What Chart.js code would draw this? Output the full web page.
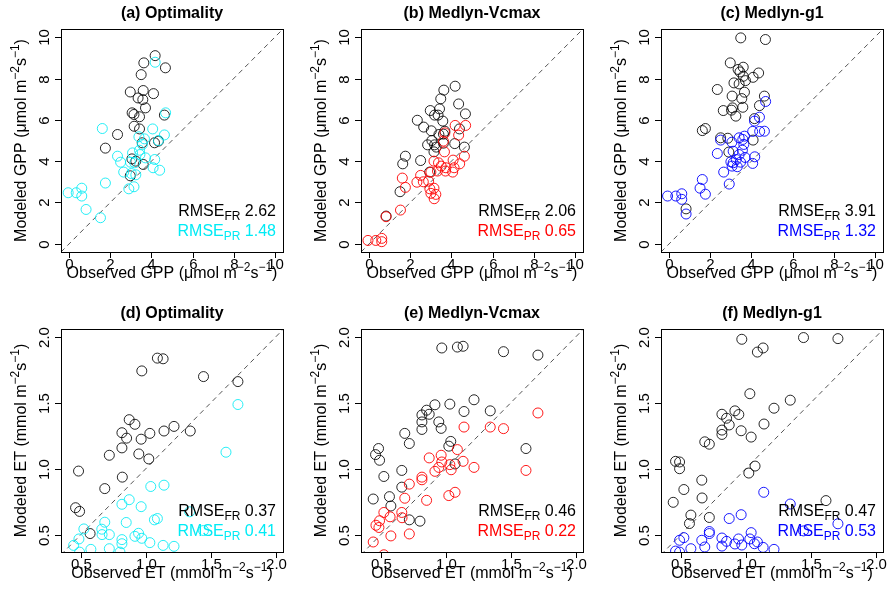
<!DOCTYPE html>
<html><head><meta charset="utf-8">
<script src="https://cdn.jsdelivr.net/npm/chart.js@4"></script>
<style>body{margin:0;background:#fff;width:896px;height:600px;position:relative;overflow:hidden}
canvas{position:absolute}</style></head><body>
<script>
// ---- Data (observed x, modeled y) ----
const aFR=[[4.18,9.11],[3.63,8.76],[4.68,8.52],[3.5,8.19],[2.97,7.35],[3.6,7.42],[4.1,7.27],[3.35,7.06],[3.58,6.98],[3.71,6.58],[3.06,6.34],[3.15,6.26],[3.42,6.15],[4.63,6.23],[3.16,5.69],[3.42,5.56],[2.35,5.29],[3.55,4.89],[4.15,4.89],[4.34,4.97],[1.76,4.63],[3.05,4.11],[3.24,4.0],[2.97,3.29],[3.6,3.84]];
const aPR=[[4.18,8.79],[4.69,6.34],[4.06,5.56],[4.63,5.27],[1.61,5.58],[3.39,5.18],[3.66,5.08],[3.56,4.81],[4.34,5.0],[3.42,4.53],[3.08,4.4],[3.44,4.32],[3.71,4.16],[2.35,4.24],[2.5,3.95],[2.98,3.95],[3.19,3.92],[4.16,4.08],[4.08,3.68],[4.4,3.56],[2.65,3.47],[3.02,3.4],[3.24,3.34],[3.15,2.76],[2.9,2.66],[1.76,2.94],[-0.05,2.47],[0.34,2.47],[0.61,2.69],[0.61,2.31],[0.82,1.66],[1.52,1.26]];
const bFR=[[4.18,7.63],[3.63,7.44],[3.48,7.02],[4.35,6.77],[2.97,6.45],[3.42,6.53],[3.18,6.23],[3.35,6.23],[4.68,6.29],[2.34,5.98],[3.58,5.94],[2.65,5.65],[3.02,5.47],[4.39,5.56],[3.68,5.45],[3.39,5.29],[3.61,5.31],[3.05,5.0],[2.84,4.79],[3.18,4.79],[3.26,4.68],[4.16,4.85],[3.61,4.87],[3.15,4.45],[4.63,4.68],[1.76,4.24],[1.63,3.87],[2.5,4.03],[2.94,3.47],[1.5,2.52],[0.82,1.34]];
const bPR=[[4.18,5.73],[4.69,5.73],[4.35,5.26],[3.68,5.37],[3.61,4.97],[3.66,4.45],[3.15,4.0],[4.08,4.05],[4.63,4.24],[3.37,3.92],[3.5,3.76],[3.73,3.68],[4.4,3.87],[4.13,3.68],[3.32,3.52],[3.71,3.52],[4.06,3.47],[3.0,3.47],[2.5,3.31],[1.61,3.18],[2.32,2.98],[2.63,3.0],[2.89,3.03],[1.76,2.73],[2.95,2.66],[3.15,2.69],[3.0,2.44],[3.24,2.39],[3.16,2.18],[1.52,1.63],[0.82,1.31],[-0.06,0.16],[0.32,0.16],[0.61,0.26],[0.61,0.1]];
const cFR=[[3.48,9.97],[4.68,9.89],[2.97,8.76],[3.6,8.55],[3.35,8.44],[3.44,8.32],[4.35,8.27],[4.08,8.06],[3.6,8.11],[3.71,7.9],[3.15,7.79],[3.4,7.74],[2.34,7.47],[3.66,7.34],[3.06,7.15],[4.63,7.15],[3.53,7.03],[4.39,6.69],[2.63,6.45],[3.03,6.47],[3.58,6.61],[3.08,6.58],[3.24,6.18],[4.15,6.06],[1.76,5.58],[1.61,5.48],[2.5,5.13],[2.85,5.11],[4.08,5.02],[2.9,4.44],[0.82,1.69]];
const cPR=[[4.69,6.89],[4.39,6.13],[4.15,5.94],[4.06,5.44],[4.4,5.44],[4.63,5.45],[2.5,5.02],[3.05,4.92],[3.4,5.13],[3.66,5.21],[3.58,5.05],[3.63,4.81],[3.56,4.53],[3.11,4.48],[2.34,4.37],[3.4,4.32],[3.69,4.18],[4.16,4.21],[3.26,4.08],[3.0,3.97],[3.11,3.92],[3.47,3.95],[3.06,3.76],[3.31,3.73],[4.06,3.89],[2.65,3.47],[1.61,3.11],[1.5,2.69],[1.76,2.4],[2.92,2.89],[-0.08,2.31],[0.32,2.31],[0.61,2.42],[0.61,2.15],[0.82,1.44]];
const dFR=[[1.089,1.839],[1.133,1.834],[0.969,1.742],[1.444,1.699],[1.709,1.661],[0.872,1.372],[0.916,1.337],[0.816,1.273],[0.852,1.232],[0.964,1.224],[1.14,1.286],[1.217,1.321],[1.342,1.286],[1.031,1.268],[0.816,1.158],[0.946,1.112],[0.719,1.102],[1.023,1.074],[0.482,0.982],[0.819,0.936],[0.684,0.849],[0.459,0.704],[0.49,0.676],[0.571,0.508]];
const dPR=[[1.709,1.487],[1.617,1.125],[1.038,0.865],[1.14,0.875],[0.872,0.765],[0.816,0.73],[0.964,0.712],[0.849,0.592],[0.684,0.594],[1.066,0.612],[1.089,0.622],[1.337,0.673],[0.661,0.541],[0.523,0.543],[0.663,0.5],[0.719,0.5],[0.944,0.51],[0.916,0.487],[0.969,0.472],[0.816,0.462],[0.485,0.467],[1.444,0.531],[0.444,0.418],[1.031,0.439],[0.577,0.388],[0.719,0.393],[1.133,0.418],[1.217,0.411],[0.801,0.367],[0.49,0.367],[0.816,0.431]];
const eFR=[[0.969,1.916],[1.089,1.923],[1.133,1.929],[1.444,1.888],[1.709,1.862],[1.217,1.523],[0.916,1.485],[1.031,1.49],[1.342,1.439],[1.14,1.434],[0.852,1.444],[0.872,1.413],[0.816,1.408],[0.816,1.355],[0.946,1.355],[0.816,1.298],[0.964,1.306],[0.684,1.268],[0.719,1.191],[1.038,1.207],[1.023,1.171],[0.482,1.153],[0.459,1.107],[0.49,1.064],[1.617,1.153],[1.071,1.036],[0.523,0.941],[0.661,0.987],[0.661,0.86],[0.566,0.788],[0.577,0.717],[0.441,0.77],[0.719,0.612],[0.801,0.602]];
const ePR=[[1.709,1.423],[1.14,1.316],[1.342,1.316],[1.444,1.304],[1.089,1.145],[0.964,1.102],[0.872,1.082],[1.133,1.056],[0.946,1.01],[0.916,0.98],[0.969,1.051],[1.031,1.031],[1.041,0.992],[1.217,1.01],[1.617,0.987],[0.816,0.936],[0.816,0.916],[0.719,0.883],[0.684,0.776],[0.852,0.76],[1.071,0.821],[1.023,0.796],[0.523,0.668],[0.661,0.668],[0.571,0.635],[0.663,0.628],[0.49,0.605],[0.462,0.571],[0.485,0.554],[0.577,0.49],[0.719,0.505],[0.441,0.444],[0.523,0.347]];
const fFR=[[0.969,1.982],[1.444,1.995],[1.709,1.987],[1.133,1.916],[1.089,1.885],[1.031,1.569],[1.342,1.52],[1.217,1.459],[0.916,1.439],[0.946,1.411],[0.816,1.413],[0.852,1.383],[0.872,1.332],[1.14,1.339],[0.816,1.293],[0.964,1.288],[0.816,1.26],[1.041,1.24],[0.684,1.204],[0.719,1.186],[0.459,1.056],[0.49,1.051],[0.49,1.0],[1.071,1.02],[1.023,0.967],[0.523,0.842],[0.661,0.913],[0.663,0.778],[0.441,0.745],[1.617,0.758],[0.577,0.648],[0.566,0.584],[0.719,0.63]];
const fPR=[[1.138,0.821],[1.342,0.732],[1.709,0.582],[1.444,0.528],[0.964,0.651],[0.872,0.622],[1.041,0.515],[0.719,0.523],[0.719,0.508],[0.661,0.457],[0.523,0.477],[0.49,0.457],[0.816,0.474],[0.852,0.449],[0.944,0.467],[1.031,0.467],[0.916,0.429],[0.969,0.421],[1.089,0.444],[1.066,0.431],[0.816,0.413],[0.684,0.406],[1.133,0.403],[0.577,0.393],[1.217,0.388],[0.459,0.375],[0.49,0.367]];
const titles=["(a) Optimality","(b) Medlyn-Vcmax","(c) Medlyn-g1","(d) Optimality","(e) Medlyn-Vcmax","(f) Medlyn-g1"];
const rmseFR=["2.62","2.06","3.91","0.37","0.46","0.47"];
const rmsePR=["1.48","0.65","1.32","0.41","0.22","0.53"];
const gppTicks=[0,2,4,6,8,10];
const etTicks=[0.5,1.0,1.5,2.0];
const gppTickLabels=["0","2","4","6","8","10"];
const etTickLabels=["0.5","1.0","1.5","2.0"];
const prColors=["rgba(0,235,245,0.85)","rgba(255,0,0,0.9)","rgba(0,0,255,0.9)"];

const panels=[
 {fr:aFR,pr:aPR,v:'GPP',u:'μmol'},{fr:bFR,pr:bPR,v:'GPP',u:'μmol'},{fr:cFR,pr:cPR,v:'GPP',u:'μmol'},
 {fr:dFR,pr:dPR,v:'ET',u:'mmol'},{fr:eFR,pr:ePR,v:'ET',u:'mmol'},{fr:fFR,pr:fPR,v:'ET',u:'mmol'}];
const FONT='"Liberation Sans", Arial, sans-serif';

function rich(ctx,parts,x,y,align,size){
  const sm=Math.round(size*0.72);
  let w=0;
  parts.forEach(p=>{ctx.font=(p[1]?sm:size)+'px '+FONT;w+=ctx.measureText(p[0]).width;});
  let cx=align==='center'?x-w/2:(align==='right'?x-w:x);
  ctx.textAlign='left';ctx.textBaseline='middle';
  parts.forEach(p=>{ctx.font=(p[1]?sm:size)+'px '+FONT;
    const dy=p[1]===1?-size*0.38:(p[1]===-1?size*0.3:0);
    ctx.fillText(p[0],cx,y+dy);cx+=ctx.measureText(p[0]).width;});
}

panels.forEach((p,i)=>{
  const row=Math.floor(i/3),col=i%3;
  const cv=document.createElement('canvas');
  cv.width=296;cv.height=300;cv.style.left=(col*300)+'px';cv.style.top=(row*300)+'px';
  document.body.appendChild(cv);
  const gpp=row===0;
  const rng=gpp?[-0.4,10.4]:[0.347,2.056];
  const yr=gpp?[-0.4,10.4]:[0.368,2.06];
  const ticks=gpp?gppTicks:etTicks, tl=gpp?gppTickLabels:etTickLabels;
  const toPts=a=>a.map(d=>({x:d[0],y:d[1]}));
  const deco={id:'deco',afterDraw(ch){
    const c=ch.ctx,a=ch.chartArea,xs=ch.scales.x,ys=ch.scales.y;
    c.save();c.strokeStyle='#000';c.lineWidth=1;c.fillStyle='#000';
    c.strokeRect(Math.round(a.left)+0.5,Math.round(a.top)+0.5,Math.round(a.right-a.left),Math.round(a.bottom-a.top));
    c.font='15px '+FONT;c.textAlign='center';c.textBaseline='top';
    ticks.forEach((t,k)=>{
      const px=Math.round(xs.getPixelForValue(t))+0.5;
      c.beginPath();c.moveTo(px,a.bottom);c.lineTo(px,a.bottom+6);c.stroke();
      c.fillText(tl[k],px,a.bottom+5);
      const py=Math.round(ys.getPixelForValue(t))+0.5;
      c.beginPath();c.moveTo(a.left,py);c.lineTo(a.left-6,py);c.stroke();
      c.save();c.translate(a.left-16,py);c.rotate(-Math.PI/2);c.textBaseline='middle';c.fillText(tl[k],0,0);c.restore();
    });
    c.font='bold 16px '+FONT;c.textAlign='center';c.textBaseline='middle';
    c.fillText(titles[i],(a.left+a.right)/2,14);
    rich(c,[['Observed '+p.v+' ('+p.u+' m',0],['−2',1],['s',0],['−1',1],[')',0]],(a.left+a.right)/2,a.bottom+22,'center',16);
    c.save();c.translate(22,(a.top+a.bottom)/2);c.rotate(-Math.PI/2);
    rich(c,[['Modeled '+p.v+' ('+p.u+' m',0],['−2',1],['s',0],['−1',1],[')',0]],0,0,'center',16);c.restore();
    c.fillStyle='#000';
    rich(c,[['RMSE',0],['FR',-1],[' '+rmseFR[i],0]],a.right-7,a.bottom-40,'right',16);
    c.fillStyle=prColors[col].replace(/[\d.]+\)$/,'1)');
    rich(c,[['RMSE',0],['PR',-1],[' '+rmsePR[i],0]],a.right-7,a.bottom-20,'right',16);
    c.restore();
  }};
  new Chart(cv,{type:'scatter',
    data:{datasets:[
      {type:'line',data:[{x:Math.min(rng[0],yr[0]),y:Math.min(rng[0],yr[0])},{x:Math.max(rng[1],yr[1]),y:Math.max(rng[1],yr[1])}],borderColor:'#555',borderWidth:1,borderDash:[5,4],pointRadius:0,clip:0,order:3},
      {data:toPts(p.fr),borderColor:'rgba(0,0,0,0.85)',backgroundColor:'transparent',pointRadius:5,borderWidth:1,clip:0,order:2},
      {data:toPts(p.pr),borderColor:prColors[col],backgroundColor:'transparent',pointRadius:5,borderWidth:1,clip:0,order:1}
    ]},
    options:{responsive:false,animation:false,devicePixelRatio:1,
      layout:{padding:{left:61,top:29,right:13,bottom:48}},
      plugins:{legend:{display:false},tooltip:{enabled:false}},
      scales:{x:{type:'linear',min:rng[0],max:rng[1],display:false},y:{type:'linear',min:yr[0],max:yr[1],display:false}}},
    plugins:[deco]});
});
</script></body></html>
